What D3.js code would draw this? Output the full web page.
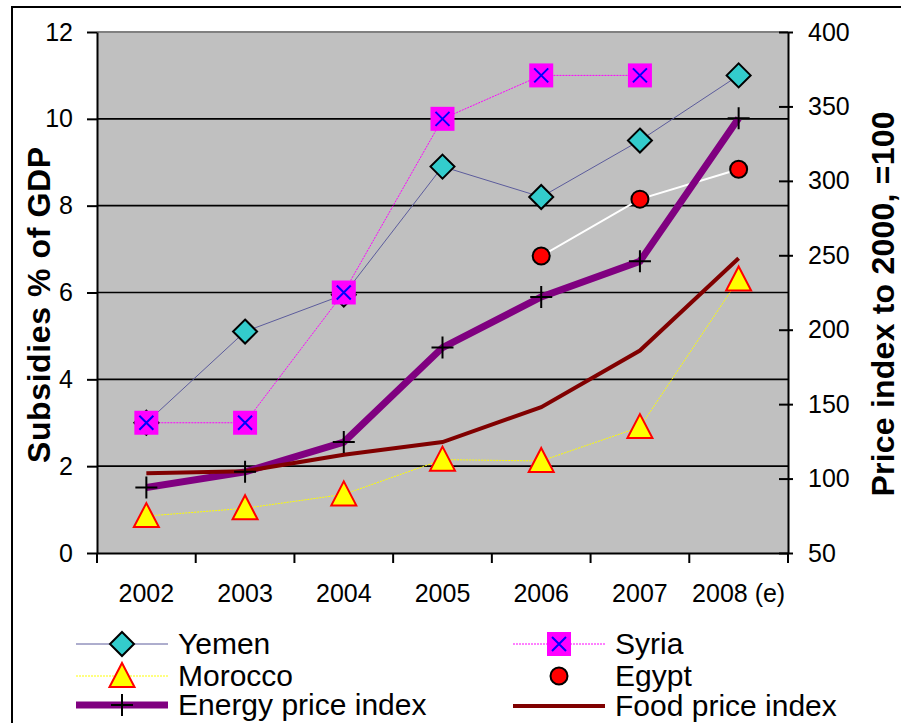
<!DOCTYPE html>
<html>
<head>
<meta charset="utf-8">
<script src="https://cdn.jsdelivr.net/npm/d3@7"></script>
<style>
body { margin: 0; background: #fff; }
text { font-family: "Liberation Sans", Arial, sans-serif; }
</style>
</head>
<body>
<script>
// chart data
var years = ["2002", "2003", "2004", "2005", "2006", "2007", "2008 (e)"];
var yemen = [3.0, 5.1, 5.95, 8.9, 8.2, 9.5, 11.0];
var syria = [3.0, 3.0, 6.0, 10.0, 11.0, 11.0, null];
var morocco = [0.85, 1.03, 1.35, 2.15, 2.12, 2.9, 6.3];
var egypt = [null, null, null, null, 6.84, 8.15, 8.84];
var energy = [94, 104.5, 124.5, 188, 222, 246, 342];
var food = [103.5, 105, 116, 124.5, 148, 186, 248];
var leftTicks = [0, 2, 4, 6, 8, 10, 12];
var rightTicks = [50, 100, 150, 200, 250, 300, 350, 400];

var W = 901, H = 723;
var pL = 97, pR = 788, pT = 32, pB = 553;

var svg = d3.select("body").append("svg")
	.attr("width", W)
	.attr("height", H);

// outer chart border
svg.append("rect")
	.attr("x", 12).attr("y", 7)
	.attr("width", 950).attr("height", 760)
	.attr("fill", "#fff")
	.attr("stroke", "#000")
	.attr("stroke-width", 2);

var x = d3.scaleBand().domain(years).range([pL, pR]);
var yL = d3.scaleLinear().domain([0, 12]).range([pB, pT]);
var yR = d3.scaleLinear().domain([50, 400]).range([pB, pT]);
function cx(d, i) { return x(years[i]) + x.bandwidth() / 2; }

// plot area
svg.append("rect")
	.attr("x", pL).attr("y", pT)
	.attr("width", pR - pL).attr("height", pB - pT)
	.attr("fill", "#c0c0c0");
svg.append("line")
	.attr("x1", pL).attr("x2", pR)
	.attr("y1", pT).attr("y2", pT)
	.attr("stroke", "#808080").attr("stroke-width", 2);

// gridlines
svg.selectAll(".grid")
	.data([2, 4, 6, 8, 10])
	.enter().append("line")
	.attr("x1", pL).attr("x2", pR)
	.attr("y1", function(d) { return yL(d); })
	.attr("y2", function(d) { return yL(d); })
	.attr("stroke", "#000").attr("stroke-width", 1.6);

// axes
var axL = svg.append("g")
	.attr("transform", "translate(" + pL + ",0)")
	.call(d3.axisLeft(yL).tickValues(leftTicks).tickSize(10).tickPadding(14).tickSizeOuter(0));
var axR = svg.append("g")
	.attr("transform", "translate(" + pR + ",0)")
	.call(d3.axisRight(yR).tickValues(rightTicks).tickSize(5).tickPadding(15).tickSizeOuter(0));
axR.selectAll(".tick line").attr("x1", -9);
var axB = svg.append("g")
	.attr("transform", "translate(0," + pB + ")")
	.call(d3.axisBottom(x).tickSize(0).tickPadding(31).tickSizeOuter(0));
// ticks at category boundaries
axB.selectAll(".bound")
	.data(years.concat(["end"]))
	.enter().append("line")
	.attr("x1", function(d, i) { return i < years.length ? x(d) : pR; })
	.attr("x2", function(d, i) { return i < years.length ? x(d) : pR; })
	.attr("y1", 0).attr("y2", 10)
	.attr("stroke", "#000").attr("stroke-width", 2);

[axL, axR, axB].forEach(function(g) {
	g.selectAll(".domain").attr("stroke", "#000").attr("stroke-width", 2);
	g.selectAll(".tick line").attr("stroke", "#000").attr("stroke-width", 2);
	g.selectAll("text")
		.attr("fill", "#000")
		.style("font-size", "25px")
		.style("font-family", '"Liberation Sans", Arial, sans-serif');
});

// axis titles
svg.append("text")
	.attr("transform", "translate(50,305) rotate(-90)")
	.attr("text-anchor", "middle")
	.style("font-size", "32px").style("font-weight", "bold")
	.attr("textLength", 316)
	.text("Subsidies % of GDP");
svg.append("text")
	.attr("transform", "translate(894,304) rotate(-90)")
	.attr("text-anchor", "middle")
	.style("font-size", "32px").style("font-weight", "bold")
	.attr("textLength", 385)
	.text("Price index to 2000, =100");

// marker helpers
function diamond(g) {
	g.append("path").attr("d", "M0,-12L12,0L0,12L-12,0Z")
		.attr("fill", "#33cccc").attr("stroke", "#000").attr("stroke-width", 2);
}
function square(g) {
	g.append("rect").attr("x", -12).attr("y", -12).attr("width", 24).attr("height", 24)
		.attr("fill", "#ff00ff");
	g.append("path").attr("d", "M-7,-7L7,7M-7,7L7,-7")
		.attr("stroke", "#0000ff").attr("stroke-width", 2);
}
function triangle(g) {
	g.append("path").attr("d", "M0,-13L12.5,11L-12.5,11Z")
		.attr("fill", "#ffff00").attr("stroke", "#ff0000").attr("stroke-width", 2);
}
function dot(g) {
	g.append("circle").attr("r", 8.5)
		.attr("fill", "#ff0000").attr("stroke", "#000").attr("stroke-width", 2);
}
function plus(g) {
	g.append("path").attr("d", "M-11,0L11,0M0,-11L0,11")
		.attr("stroke", "#000").attr("stroke-width", 2);
}

var series = [
	{ name: "Yemen", vals: yemen, y: yL, color: "#5c5c9c", width: 1, dash: null, marker: diamond },
	{ name: "Syria", vals: syria, y: yL, color: "#ff00ff", width: 1, dash: "2,1", marker: square },
	{ name: "Morocco", vals: morocco, y: yL, color: "#ffff00", width: 1, dash: "2,1", marker: triangle },
	{ name: "Egypt", vals: egypt, y: yL, color: "#ffffff", width: 2, dash: null, marker: dot },
	{ name: "Energy price index", vals: energy, y: yR, color: "#800080", width: 7, dash: null, marker: plus },
	{ name: "Food price index", vals: food, y: yR, color: "#800000", width: 4, dash: null, marker: null }
];

series.forEach(function(s) {
	var line = d3.line()
		.defined(function(d) { return d != null; })
		.x(cx)
		.y(function(d) { return s.y(d); });
	svg.append("path")
		.datum(s.vals)
		.attr("d", line)
		.attr("fill", "none")
		.attr("stroke", s.color)
		.attr("stroke-width", s.width)
		.attr("stroke-dasharray", s.dash);
});
series.forEach(function(s) {
	if (!s.marker) return;
	s.vals.forEach(function(d, i) {
		if (d == null) return;
		var g = svg.append("g")
			.attr("transform", "translate(" + cx(d, i) + "," + s.y(d) + ")");
		s.marker(g);
	});
});

// legend
var legendPos = [
	{ lx: 76, ly: 644 }, { lx: 513, ly: 644 },
	{ lx: 76, ly: 676 }, { lx: 513, ly: 676 },
	{ lx: 76, ly: 705 }, { lx: 513, ly: 706 }
];
series.forEach(function(s, j) {
	var p = legendPos[j];
	var g = svg.append("g").attr("transform", "translate(" + p.lx + "," + p.ly + ")");
	g.append("line").attr("x1", 0).attr("x2", 92)
		.attr("stroke", s.color)
		.attr("stroke-width", s.width)
		.attr("stroke-dasharray", s.dash);
	if (s.marker) {
		var m = g.append("g").attr("transform", "translate(46,0)");
		s.marker(m);
	}
	g.append("text")
		.attr("x", 102).attr("y", 10)
		.style("font-size", "30px")
		.text(s.name);
});
</script>
</body>
</html>
